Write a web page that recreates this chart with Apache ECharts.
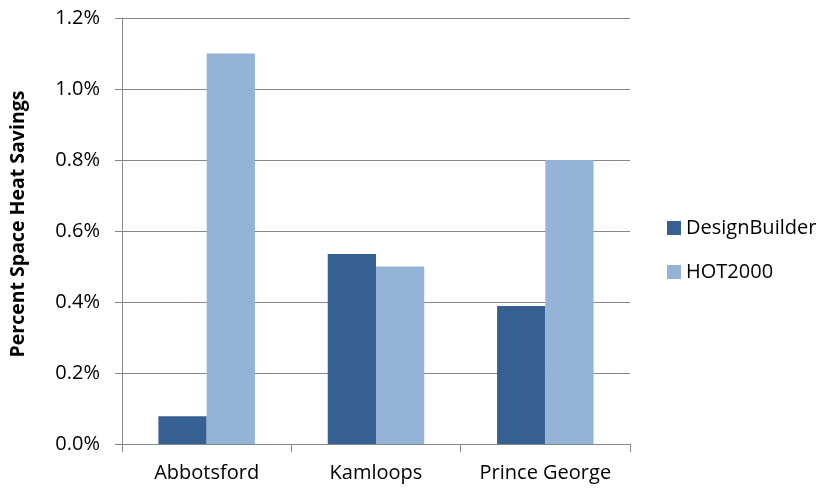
<!DOCTYPE html>
<html>
<head>
<meta charset="utf-8">
<script src="https://cdn.jsdelivr.net/npm/echarts@6/dist/echarts.min.js"></script>
<style>
  html, body { margin: 0; padding: 0; background: #ffffff; }
  #chart { width: 820px; height: 489px; }
</style>
</head>
<body>
<div id="chart"></div>
<script>
const categories = ['Abbotsford', 'Kamloops', 'Prince George'];
const designBuilder = [0.078, 0.535, 0.389];
const hot2000 = [1.1, 0.5, 0.8];
const yTickMin = 0;
const yTickMax = 1.2;
const yTickStep = 0.2;

const FONT = '"Open Sans", "Liberation Sans", sans-serif';
const chart = echarts.init(document.getElementById('chart'));
chart.setOption({
  animation: false,
  backgroundColor: '#ffffff',
  textStyle: { fontFamily: FONT },
  grid: { left: 122, right: 190, top: 18, bottom: 45, containLabel: false, outerBoundsMode: 'none' },
  legend: {
    orient: 'vertical',
    left: 667,
    top: 218,
    padding: 0,
    itemWidth: 14,
    itemHeight: 14,
    itemGap: 24,
    icon: 'rect',
    textStyle: { fontFamily: FONT, fontSize: 20, color: '#000000' },
    data: ['DesignBuilder', 'HOT2000']
  },
  xAxis: {
    type: 'category',
    data: categories,
    axisLine: { show: true, lineStyle: { color: '#868686', width: 1 } },
    axisTick: { show: true, length: 8, lineStyle: { color: '#868686' } },
    axisLabel: { color: '#000000', fontSize: 20, fontFamily: FONT, margin: 19, interval: 0, hideOverlap: false }
  },
  yAxis: {
    type: 'value',
    min: yTickMin,
    max: yTickMax,
    interval: yTickStep,
    name: 'Percent Space Heat Savings',
    nameLocation: 'middle',
    nameGap: 94,
    nameTextStyle: {
      fontFamily: FONT, fontSize: 19.5, fontWeight: 'bold', color: '#000000',
      padding: [0, 0, 0, 14]
    },
    axisLine: { show: true, lineStyle: { color: '#868686', width: 1 } },
    axisTick: { show: true, length: 7, lineStyle: { color: '#868686' } },
    splitLine: { show: true, lineStyle: { color: '#868686', width: 1 } },
    axisLabel: {
      color: '#000000', fontSize: 20, fontFamily: FONT, margin: 22,
      formatter: v => v.toFixed(1) + '%'
    }
  },
  series: [
    {
      name: 'DesignBuilder',
      type: 'bar',
      data: designBuilder,
      barGap: '0%',
      barCategoryGap: '43%',
      itemStyle: { color: '#376092' }
    },
    {
      name: 'HOT2000',
      type: 'bar',
      data: hot2000,
      barGap: '0%',
      barCategoryGap: '43%',
      itemStyle: { color: '#95b3d7' }
    }
  ]
});
</script>
</body>
</html>
